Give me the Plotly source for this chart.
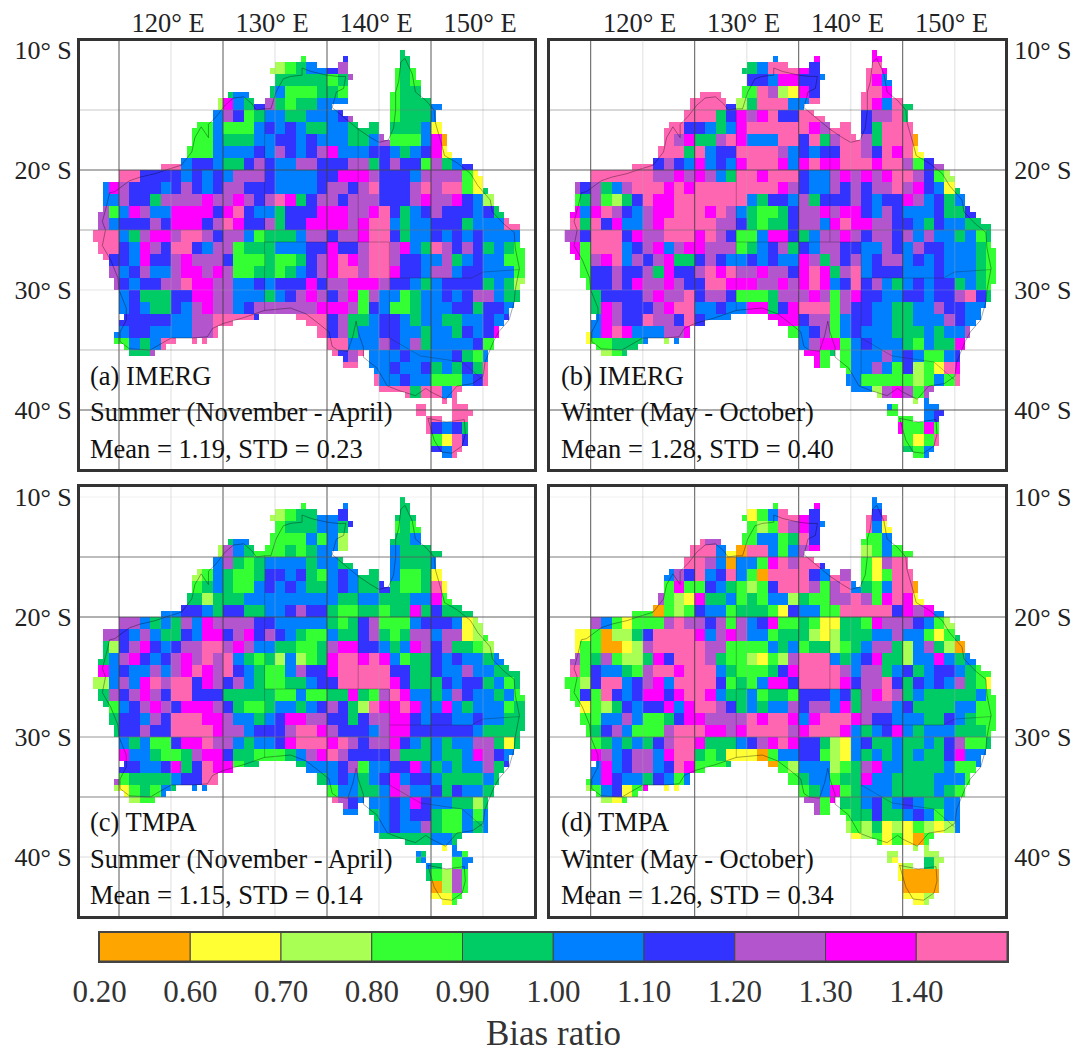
import numpy as np
import plotly.graph_objects as go

W, H = 1080, 1052
SERIF = "Liberation Serif"

CLASS_COLORS = ["#FFA500", "#FFFF33", "#AAFF55", "#33FF33", "#00CC66",
                "#0080FF", "#3333FF", "#B355CC", "#FF00FF", "#FF66B2"]
CLASS_LABELS = ["0.20", "0.60", "0.70", "0.80", "0.90", "1.00", "1.10", "1.20", "1.30", "1.40"]
LON_TICKS = [120, 130, 140, 150]
LAT_TICKS = [-10, -20, -30, -40]

# Bias-ratio class (0-9) per 1 degree cell: one row per latitude band from 10S, (first column, values from 113E)
PANEL_A = [
(29,"4"),(17,"2345567....343"),(17,"4444434....343"),(12,"455..5333443....3444"),
(11,"2854674344555....34445"),(11,"57634554455567...34445"),(9,"3353335656544554447444510"),
(9,"3354445566565554457333580"),(9,"3355556576567855566545681"),(6,"9956654467655776667746766374565"),
(2,"99666656565777655556688876665777731"),(0,"58766656765677666555567767966679799314"),
(0,"55766477778778767984677677766678778652"),(0,"735875588886896554666888778964567666564"),
(0,"7566676888679866746688887899545566645559"),(0,"99547887997677534445776778996455656565555"),
(0,"99658769965773444555668667997854976764543"),(1,"6658667877763334334678987997665574565533"),
(1,"7567557887873344345678997998665775665553"),(1,"7656677988775565666867788876654566664542"),
(2,"56444668877555456787678375534556567754"),(2,"56544657877567777778887365334555664665"),
(2,"6666655779999....99967445665455445565"),(1,"55665555779.........967455665545546568"),
(1,"3354599.99...........9955576574555563"),(3,"447................9679555655556435"),
(23,"99.556556454649"),(26,"955655333569"),(27,"999499599"),(30,"99.999"),(30,"99..999"),
(31,"965644"),(32,"31969"),(32,"6599"),
]
PANEL_B = [
(29,"8"),(16,"44599986....998"),(17,"66588665...9855"),(12,"99..339721868...9989"),
(11,"99996249995599...985945"),(11,"99946878966999...677940"),(9,"996654589999998799.649990"),
(9,"9784479855599694799749990"),(8,"999495669999756566997698912"),(6,"9967658565899985898899989973678"),
(2,"99999977878754998999655787878997632"),(0,"76745799989899999999876557676779786514"),
(0,"347324698899999995466574666765668756450"),(0,"858976578899989754334677878865765556446"),
(0,"9496855789999977643446775898877665465544"),(0,"7699968779998976335886457787677675755453"),
(0,"83999567857887773456746577665576576655543"),(1,"3789576784467655656558747675677565655543"),
(1,"3667667486679897787768984795666555655543"),(1,"3667687787669988877878985696754565664543"),
(2,"46666787796776333477787378665566566796"),(2,"48766678995565588468999376655445576655"),
(2,"58766977696555...88867735665544555765"),(1,"15898555778.........356735655544454557"),
(1,"133444..25...........5788356555435448"),(3,"234................8834355575653356"),
(24,"34355753623198"),(26,"553333323539"),(27,"552787375"),(30,"53.2556"),(30,"33..566"),
(31,"833833"),(32,"31393"),(32,"4353"),
]
PANEL_C = [
(29,"4"),(17,"2344556....444"),(17,"3444554....343"),(12,"455.33335352....4454"),
(11,"2754333434552....544444"),(11,"57434555545544...54445"),(9,"2354334665643565445533410"),
(9,"34543356565445654464334912"),(8,"442444555555555445544455832"),(6,"5566546644556766433443448464445"),
(2,"77545475877776655555434673335666512"),(1,"7657544658867867654335446743477577123"),
(0,"42678656779978755443347886654587674432"),(0,"457865678797954342523489989853446565545"),
(0,"8565575789879654335766899999664465575544"),(0,"25758979968767543344566999998644465664534"),
(0,"47678769966644444335334484379855457655453"),(1,"3567876888764334554567642988985585455534"),
(1,"4665769998875545688776646778865665565544"),(1,"4667669999877566679987666578866666654444"),
(2,"54533688977545568999897677865454557741"),(2,"85543347886443334578976666744454458765"),
(2,"6655684698834......556735566854545574"),(1,"73444456699.........456545685665444454"),
(1,"213435..55...........3554458755646554"),(3,"233................9765556586554424"),
(23,"55.456566433535"),(26,"556557433545"),(27,"444445545"),(30,"54.153"),(30,"454.355"),
(31,"43273"),(32,"0273"),(32,"1133"),
]
PANEL_D = [
(29,"5"),(16,"31359986....969"),(17,"32397865...951"),(12,"977.335534963...3359"),
(11,"9995109953578....235334"),(11,"99750553897996...317990"),(9,"576956953099996597.313990"),
(9,"3833654323699973795435990"),(8,"732184453435524337797389813"),(6,"330323655344431655339999968785"),
(2,"75313337977673756833431144387776532"),(1,"1302246999985787553444212444557553134"),
(0,"13300127999997733335453442345774257420"),(0,"734732248699974332132799954568442558545"),
(0,"9365543799899954333468999975774564566543"),(0,"32699567859999634358869999867796465657431"),
(0,"36396568868998544534436665647897454444453"),(1,"1324656685899764545576775847775644445533"),
(1,"3355753346887777989985899987665554465433"),(1,"3467533379998878999978999854568545554443"),
(2,"34545467998444567898664215644544546733"),(2,"87567758994341110355663215454545446855"),
(2,"5856775698333.....3255523478554444533"),(1,"35865546535.........345534485544445553"),
(1,"2356138.11...........3458345554444543"),(3,"213................7738445645654455"),
(24,"34344644565355"),(26,"232412132125"),(27,"123131032"),(30,"22.2221"),(30,"212.421"),
(31,"10000"),(32,"0000"),(32,"1121"),
]

# Land cells: runs of longitude on each half-degree latitude row from 10S southwards
LAND_RUNS = [
[(142,142.5)],[(132.5,133),(136.5,137),(142,143)],[(130,134),(136,137),(142,143)],
[(129.5,137),(141.5,143.5)],[(130,137.5),(141.5,143.5)],[(130,137),(141.5,144)],
[(129.5,137),(141.5,144)],[(125.5,127.5),(129.5,137),(141,144)],[(124.5,128),(129,137),(141,145)],
[(124.5,135.5),(141,146)],[(124,136.5),(141,145.5)],[(124,137.5),(141,145.5)],
[(122.5,138),(139,140),(141,146)],[(122,140),(141,146)],[(122,140.5),(141,146.5)],
[(122,146.5)],[(121.5,146.5)],[(121.5,147)],[(121,148)],[(119,149)],[(115,149.5)],[(115,150)],
[(113.5,150)],[(113.5,150.5)],[(113.5,151)],[(113.5,151)],[(113.5,151.5)],[(113,152)],[(113,152.5)],
[(113,153.5)],[(112.5,153.5)],[(112.5,153.5)],[(113,153.5)],[(113,154)],[(113.5,154)],[(114,154)],
[(114,154)],[(114,154)],[(114.5,154)],[(114.5,153.5)],[(115,153.5)],[(115,153.5)],[(115,153)],
[(115,152.5)],[(115.5,128.5),(132,152.5)],[(115,126),(133,152)],[(115,124.5),(134,151.5)],
[(114.5,124.5),(134,151.5)],[(114.5,120.5),(122,122.5),(123,123.5),(135,151)],[(115.5,119.5),(135,151)],
[(116,118.5),(135.5,138.5),(139,150.5)],[(136.5,138),(139,150.5)],[(136.5,138),(139,150.5)],
[(139.5,150.5)],[(139.5,150.5)],[(139.5,150.5)],[(140,148)],[(142.5,147.5)],
[(146,146.5),(147,147.5)],[(143.5,144.5),(147,148.5)],[(143.5,144.5),(147,149)],
[(144.5,146),(147,148.5)],[(144.5,148.5)],[(144.5,148.5)],[(145,148.5)],[(145,148.5)],[(145,148)],[(146,147.5)],
]

COAST_LON = [122.9,123.6,123.6,124.4,125.2,126,127,127.8,128.2,129,129.6,130.1,130.8,131.5,132.6,132.6,133.5,135,136,136.8,136.6,135.9,135.5,136.2,137,138,139.2,140,140.9,141.4,141.6,141.6,141.9,142.1,142.5,143.2,143.5,144.5,145.3,145.4,146,146.3,147.5,148.8,149.5,150.7,150.9,152,153,153.1,153.5,153.1,153,152.5,151.5,151,150.2,150,149,147.5,146.4,145,144.5,143.5,142,140.8,139.8,138.5,138.5,138,137.8,137.5,137,136,135.5,135.2,134.2,133,131.5,129,127,125,124,123.5,122,120,118,116,115.1,115.1,115.7,115.7,115,114.9,114.2,113.4,113.7,113.4,113.8,114.1,114.6,116,117,118.5,119.5,121,122,122.3,122.9,None,144.7,146.5,148.2,148.3,148,147,146,145.3,144.7]
COAST_LAT = [-16.4,-17.3,-16.2,-15.5,-14.6,-14,-13.9,-14.5,-15,-14.9,-14.9,-13.5,-12.4,-12.2,-12.1,-11.5,-11.8,-12.1,-12.2,-12.2,-13.2,-13.5,-14.8,-15.3,-15.9,-16.6,-17.3,-17.7,-17.5,-16.5,-15,-13.5,-12.6,-11,-10.7,-12,-13.5,-14.2,-15,-16,-17.8,-18.8,-19.4,-20.3,-21.3,-22.5,-23.5,-24.5,-25.2,-26.5,-28.2,-30,-31,-32.5,-33.5,-34.3,-36,-37.2,-37.8,-38,-39.1,-38.5,-38.2,-38.8,-38.4,-38,-36.5,-35.6,-34.8,-33.5,-32.6,-33.8,-35.1,-35,-34.7,-33.5,-32.8,-32,-31.5,-31.7,-32.3,-32.8,-33.2,-33.9,-34,-34,-35,-34.9,-34.3,-33.5,-32.5,-31.5,-30,-29,-27.5,-26.3,-25,-24.3,-23,-21.9,-21.8,-20.9,-20.6,-20.3,-20,-19.6,-18.5,-17.3,-16.4,None,-40.7,-41,-40.8,-42,-43,-43.6,-43.5,-42.5,-40.7]
BORDER_LON = [129,129,None,129,141,None,138,138,None,141,141,None,141,148.9,150,153.5,None,141,144,148,150]
BORDER_LAT = [-14.9,-31.7,None,-26,-26,None,-16.5,-26,None,-26,-38,None,-29,-29,-28.5,-28.3,None,-34,-35.5,-36,-37.5]

DARK_LONS = [115, 125, 135, 145]
LIGHT_LONS = [120, 130, 140, 150]
LAT_LINES_TOP = {"a": [(-15,"rgba(120,120,120,.4)"),(-20,"rgba(70,70,70,.85)"),(-25,"rgba(110,110,110,.6)"),(-30,"rgba(170,170,170,.3)"),(-35,"rgba(130,130,130,.5)"),(-40,"rgba(70,70,70,.9)")],
                 "b": [(-15,"rgba(110,110,110,.55)"),(-20,"rgba(70,70,70,.85)"),(-25,"rgba(110,110,110,.6)"),(-30,"rgba(170,170,170,.3)"),(-35,"rgba(130,130,130,.5)"),(-40,"rgba(70,70,70,.9)")],
                 "c": [(-10,"rgba(200,200,200,.25)"),(-15,"rgba(90,90,90,.8)"),(-20,"rgba(70,70,70,.85)"),(-30,"rgba(110,110,110,.7)"),(-35,"rgba(100,100,100,.8)"),(-40,"rgba(170,170,170,.4)")],
                 "d": [(-10,"rgba(200,200,200,.25)"),(-15,"rgba(90,90,90,.8)"),(-20,"rgba(70,70,70,.85)"),(-30,"rgba(110,110,110,.7)"),(-35,"rgba(100,100,100,.8)"),(-40,"rgba(170,170,170,.4)")]}

PANELS = [
 dict(key="a", data=PANEL_A, box=(80,40.5,534,469), lon120=171.0, lat10=50.0, lines=["(a) IMERG","Summer (November - April)","Mean = 1.19, STD = 0.23"], tx=87.5, ty=[376,412,449], top=True, side="left"),
 dict(key="b", data=PANEL_B, box=(550,40.5,1005,469), lon120=642.7, lat10=50.0, lines=["(b) IMERG","Winter (May - October)","Mean = 1.28, STD = 0.40"], tx=558.5, ty=[376,412,449], top=True, side="right"),
 dict(key="c", data=PANEL_C, box=(80,487,534,916), lon120=171.0, lat10=497.0, lines=["(c) TMPA","Summer (November - April)","Mean = 1.15, STD = 0.14"], tx=87.5, ty=[822,859,895], top=False, side="left"),
 dict(key="d", data=PANEL_D, box=(550,487,1005,916), lon120=642.7, lat10=497.0, lines=["(d) TMPA","Winter (May - October)","Mean = 1.26, STD = 0.34"], tx=558.5, ty=[822,859,895], top=False, side="right"),
]
PX_LON, PX_LAT = 10.4, 12.0

def coarse_grid(rows):
    g = np.full((34, 41), np.nan)
    for r, (start, s) in enumerate(rows):
        for i, ch in enumerate(s):
            if ch != "." and start + i < 41:
                g[r, start + i] = int(ch)
    return g

def fine_grid(rows):
    g = coarse_grid(rows)
    lons = np.arange(112.75, 154.5, 0.5)
    lats = -10.25 - 0.5 * np.arange(68)
    z = [[None] * len(lons) for _ in lats]
    for j, runs in enumerate(LAND_RUNS):
        for w, e in runs:
            for i, lo in enumerate(lons):
                if w < lo < e:
                    rr = min(33, int(-lats[j] - 10)); cc = min(40, max(0, int(lo - 113)))
                    v = g[rr, cc]
                    rad = 1
                    while np.isnan(v) and rad < 5:
                        win = g[max(0, rr-rad):rr+rad+1, max(0, cc-rad):cc+rad+1]
                        good = win[~np.isnan(win)]
                        if good.size:
                            v = good[0]
                        rad += 1
                    z[j][i] = None if np.isnan(v) else int(v)
    return lons.tolist(), lats.tolist(), z

scale = []
for i, c in enumerate(CLASS_COLORS):
    scale += [[i / 10, c], [(i + 1) / 10, c]]

fig = go.Figure()
layout = dict(width=W, height=H, margin=dict(l=0, r=0, t=0, b=0, autoexpand=False), paper_bgcolor="white", plot_bgcolor="white",
              showlegend=False, template="none", font=dict(family=SERIF, color="#222"))
shapes, annotations = [], []
for n, p in enumerate(PANELS, start=1):
    sfx = "" if n == 1 else str(n)
    x0, y0, x1, y1 = p["box"]
    lons, lats, z = fine_grid(p["data"])
    fig.add_trace(go.Heatmap(x=lons, y=lats, z=z, zmin=-0.5, zmax=9.5, colorscale=scale, showscale=False,
                             hoverinfo="skip", xaxis="x" + sfx, yaxis="y" + sfx))
    fig.add_trace(go.Scatter(x=BORDER_LON, y=BORDER_LAT, mode="lines", line=dict(color="rgba(30,30,30,.6)", width=0.5),
                             hoverinfo="skip", xaxis="x" + sfx, yaxis="y" + sfx))
    fig.add_trace(go.Scatter(x=COAST_LON, y=COAST_LAT, mode="lines", line=dict(color="rgba(0,0,0,.7)", width=0.5),
                             hoverinfo="skip", xaxis="x" + sfx, yaxis="y" + sfx))
    lon_of = lambda px: 120 + (px - p["lon120"]) / PX_LON
    lat_of = lambda py: -(10 + (py - p["lat10"]) / PX_LAT)
    layout["xaxis" + sfx] = dict(domain=[x0 / W, x1 / W], range=[lon_of(x0), lon_of(x1)], anchor="y" + sfx, side="top", automargin=False,
        tickvals=LON_TICKS if p["top"] else [], ticktext=[f"{v}° E" for v in LON_TICKS] if p["top"] else [],
        ticks="", ticklabelshift=-3, ticklabelstandoff=-5, tickfont=dict(family=SERIF, size=26.5, color="#222"),
        showgrid=False, zeroline=False, showline=True, mirror=True, linewidth=3, linecolor="#333")
    layout["yaxis" + sfx] = dict(domain=[1 - y1 / H, 1 - y0 / H], range=[lat_of(y1), lat_of(y0)], anchor="x" + sfx, side=p["side"], automargin=False,
        tickvals=LAT_TICKS, ticktext=[f"{-v}° S" for v in LAT_TICKS], ticks="outside", ticklen=0 if p["side"] == "left" else 1, tickcolor="rgba(0,0,0,0)",
        tickfont=dict(family=SERIF, size=26, color="#222"), showgrid=False, zeroline=False, showline=True, mirror=True, linewidth=3, linecolor="#333")
    for v in DARK_LONS:
        shapes.append(dict(type="line", xref="x"+sfx, yref="y"+sfx+" domain", x0=v, x1=v, y0=0, y1=1, layer="above", line=dict(color="rgba(60,60,60,.85)", width=1)))
    for v in LIGHT_LONS:
        shapes.append(dict(type="line", xref="x"+sfx, yref="y"+sfx+" domain", x0=v, x1=v, y0=0, y1=1, layer="above", line=dict(color="rgba(170,170,170,.25)", width=1.5)))
    for v, col in LAT_LINES_TOP[p["key"]]:
        shapes.append(dict(type="line", xref="x"+sfx+" domain", yref="y"+sfx, x0=0, x1=1, y0=v, y1=v, layer="above", line=dict(color=col, width=1)))
    for t, yy in zip(p["lines"], p["ty"]):
        annotations.append(dict(text=t, xref="paper", yref="paper", x=p["tx"] / W, y=1 - yy / H, xanchor="left", yanchor="middle",
                                showarrow=False, font=dict(family=SERIF, size=26.5, color="#111")))

# class legend
bx0, by0, bx1, by1 = 99.5, 932.5, 1007, 961
fig.add_trace(go.Bar(x=list(range(10)), y=[1] * 10, width=1, marker=dict(color=CLASS_COLORS, line=dict(color="#444", width=1)),
                     hoverinfo="skip", xaxis="x5", yaxis="y5"))
layout["xaxis5"] = dict(domain=[bx0 / W, bx1 / W], range=[-0.5, 9.5], anchor="y5", automargin=False, tickvals=[i - 0.5 for i in range(10)], ticktext=CLASS_LABELS,
                        ticks="outside", ticklen=2, tickcolor="rgba(0,0,0,0)", tickfont=dict(family=SERIF, size=31, color="#333"), showgrid=False, zeroline=False,
                        showline=True, mirror=True, linewidth=1.5, linecolor="#444")
layout["yaxis5"] = dict(domain=[1 - by1 / H, 1 - by0 / H], range=[0, 1], anchor="x5", automargin=False, showticklabels=False, ticks="", showgrid=False, zeroline=False,
                        showline=True, mirror=True, linewidth=1.5, linecolor="#444")
annotations.append(dict(text="Bias ratio", xref="paper", yref="paper", x=553 / W, y=1 - 1033 / H, xanchor="center", yanchor="middle",
                        showarrow=False, font=dict(family=SERIF, size=35, color="#333")))
layout["shapes"] = shapes
layout["annotations"] = annotations
fig.update_layout(**layout)
fig.write_html("out.html", config={"displayModeBar": False}, post_script="document.body.style.margin='0';")
